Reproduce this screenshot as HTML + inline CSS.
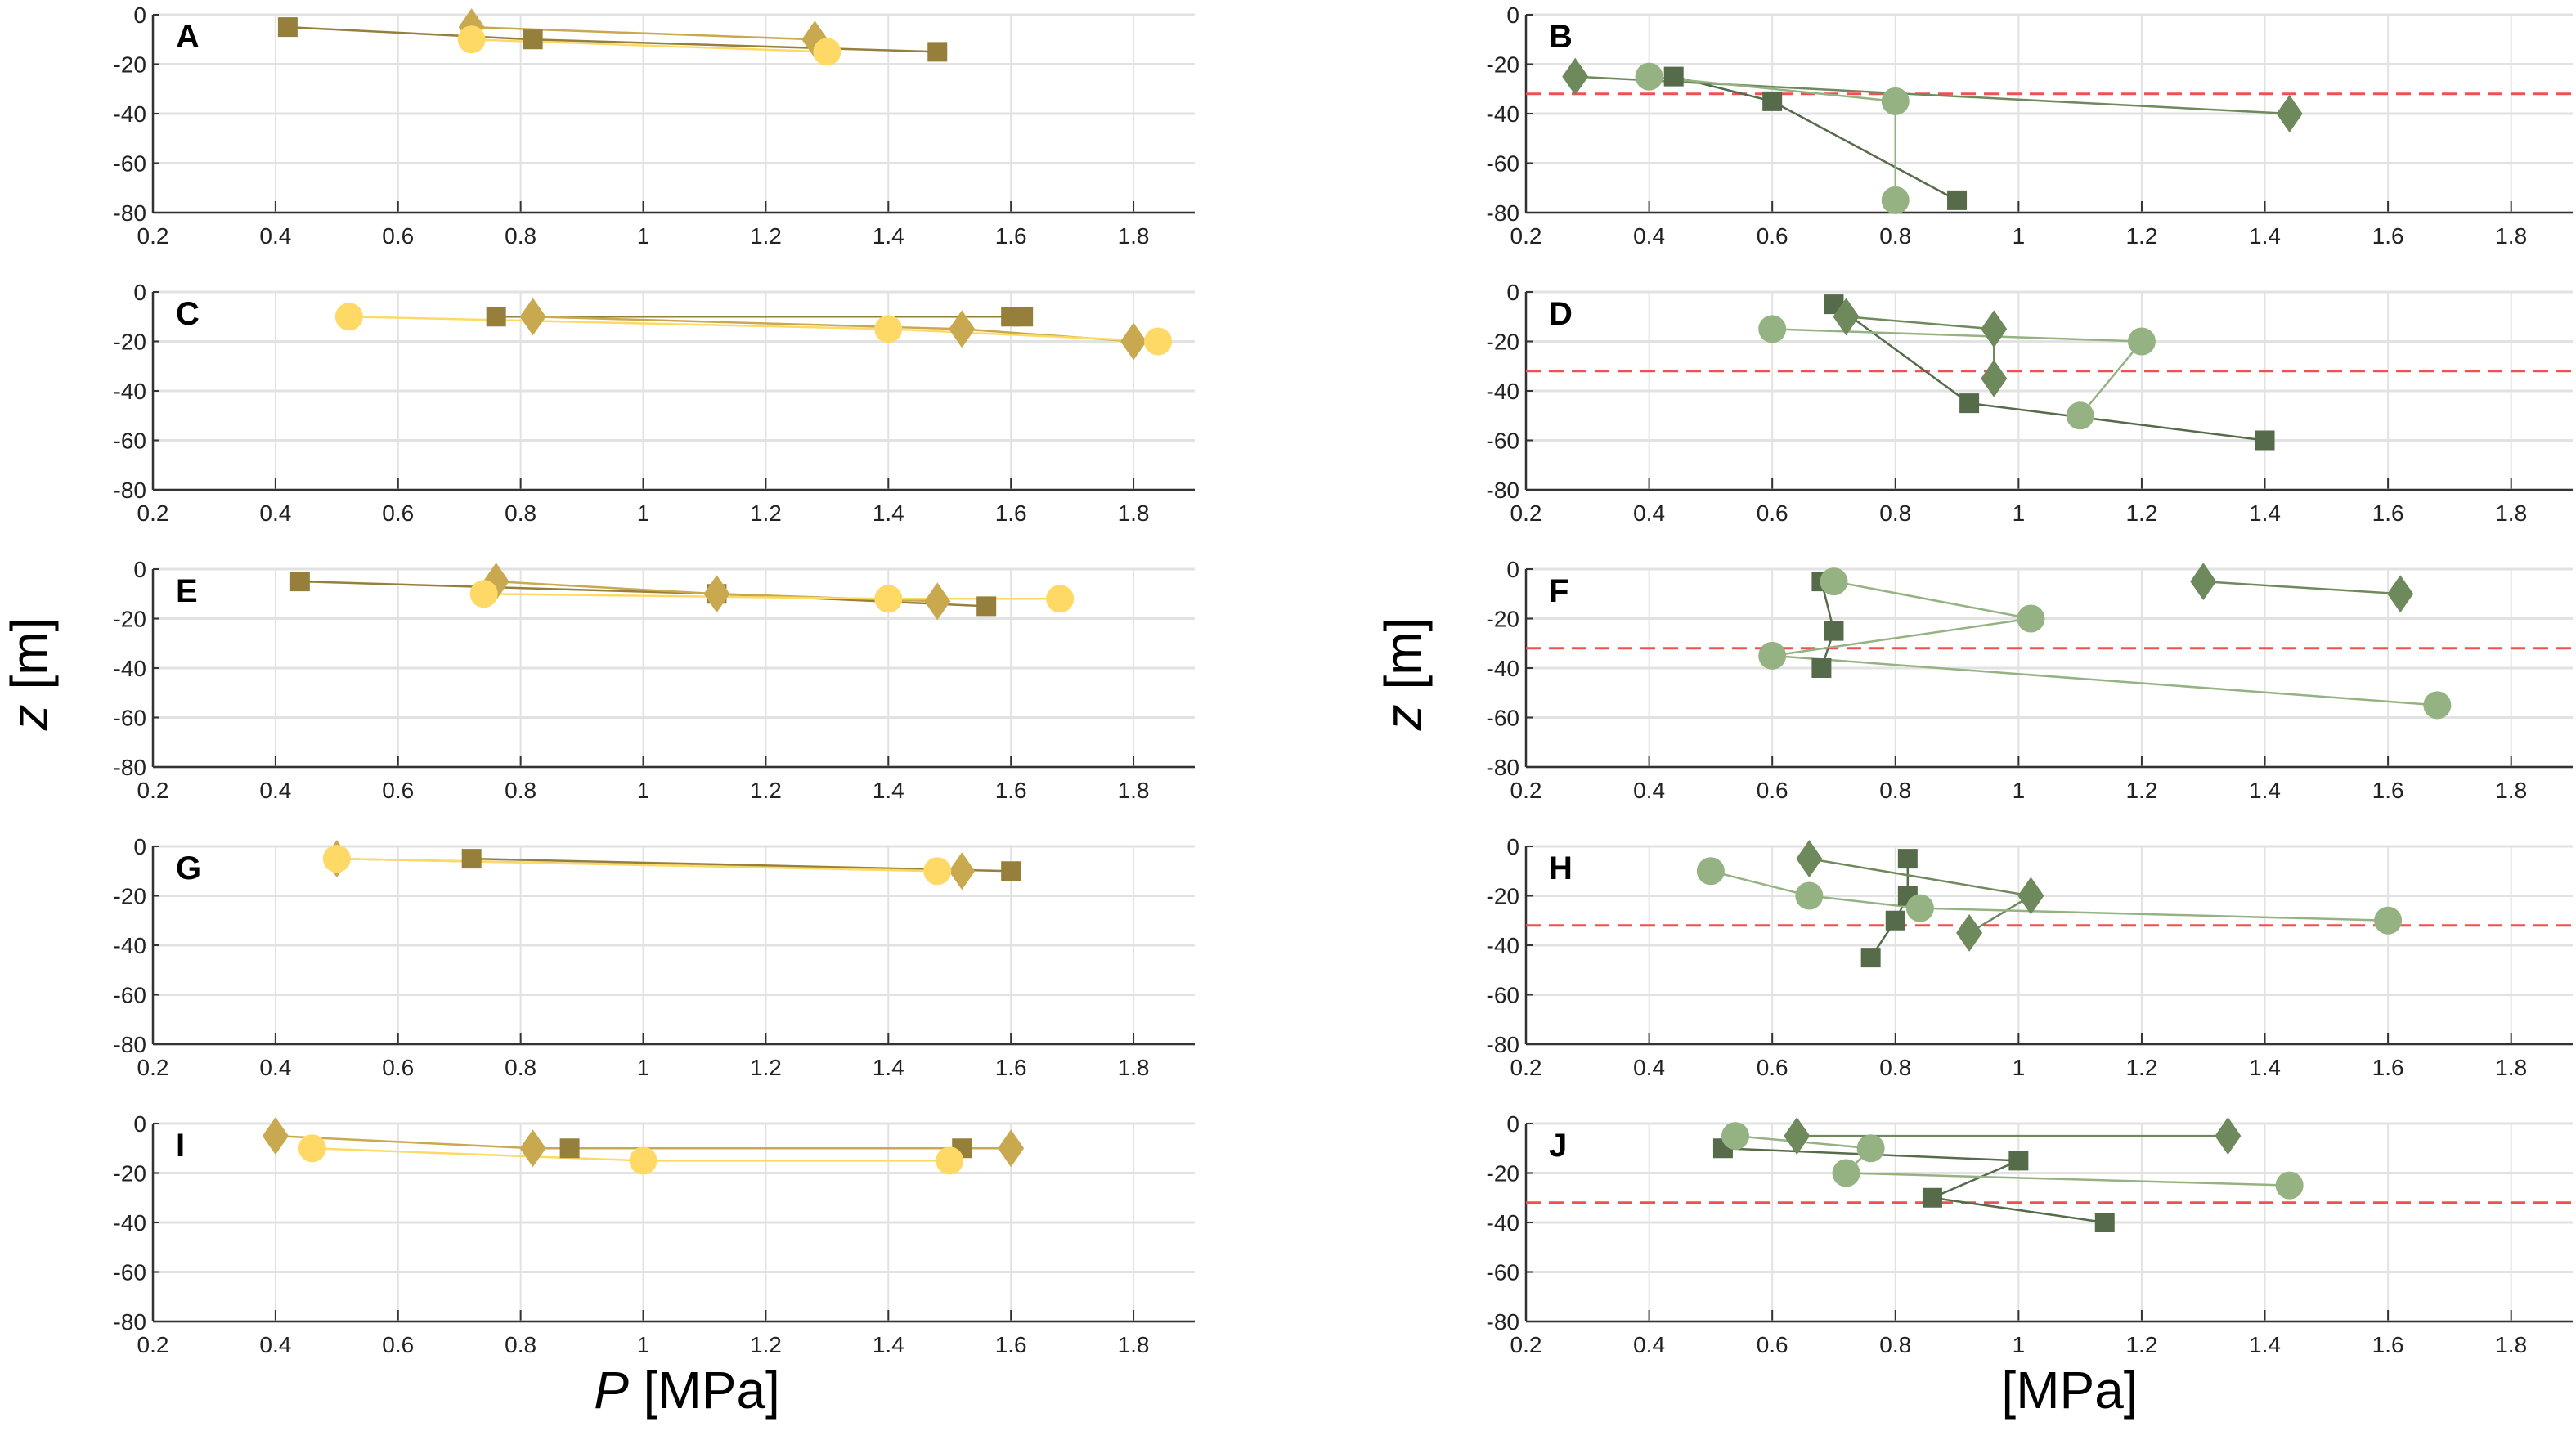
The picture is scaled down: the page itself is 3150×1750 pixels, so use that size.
<!DOCTYPE html>
<html><head><meta charset="utf-8"><style>
body{margin:0;background:#fff}
svg text{font-family:"Liberation Sans",sans-serif}
</style></head><body>
<svg id="fig" width="3150" height="1745" viewBox="0 0 3150 1745" xmlns="http://www.w3.org/2000/svg">
<text transform="translate(58,824) rotate(-90)" text-anchor="middle" font-size="64"><tspan font-style="italic">z</tspan> [m]</text>
<text transform="translate(1738,824) rotate(-90)" text-anchor="middle" font-size="64"><tspan font-style="italic">z</tspan> [m]</text>
<text x="840" y="1722" text-anchor="middle" font-size="64"><tspan font-style="italic">P</tspan> [MPa]</text>
<text x="2531" y="1722" text-anchor="middle" font-size="64">[MPa]</text>
</svg>
<script>
const panelLetters=['A','B','C','D','E','F','G','H','I','J'];
const xTicks=[0.2,0.4,0.6,0.8,1,1.2,1.4,1.6,1.8];
const yTicks=[0,-20,-40,-60,-80];
const xTickLabels=['0.2','0.4','0.6','0.8','1','1.2','1.4','1.6','1.8'];
const yTickLabels=['0','-20','-40','-60','-80'];
const refDepth=-32;
const sqP=[[0.42,0.82,1.48],[0.44,0.6,0.9],[0.76,1.6,1.62],[0.7,0.92,1.4],[0.44,1.12,1.56],[0.68,0.7,0.68],[0.72,1.6],[0.82,0.82,0.8,0.76],[0.88,1.52],[0.52,1.0,0.86,1.14]];
const sqZ=[[-5,-10,-15],[-25,-35,-75],[-10,-10,-10],[-5,-45,-60],[-5,-10,-15],[-5,-25,-40],[-5,-10],[-5,-20,-30,-45],[-10,-10],[-10,-15,-30,-40]];
const dmP=[[0.72,1.28],[0.28,1.44],[0.82,1.52,1.8],[0.72,0.96,0.96],[0.76,1.12,1.48],[1.3,1.62],[0.5,1.52],[0.66,1.02,0.92],[0.4,0.82,1.6],[0.64,1.34]];
const dmZ=[[-5,-10],[-25,-40],[-10,-15,-20],[-10,-15,-35],[-5,-10,-13],[-5,-10],[-5,-10],[-5,-20,-35],[-5,-10,-10],[-5,-5]];
const ciP=[[0.72,1.3],[0.4,0.8,0.8],[0.52,1.4,1.84],[0.6,1.2,1.1],[0.74,1.4,1.68],[0.7,1.02,0.6,1.68],[0.5,1.48],[0.5,0.66,0.84,1.6],[0.46,1.0,1.5],[0.54,0.76,0.72,1.44]];
const ciZ=[[-10,-15],[-25,-35,-75],[-10,-15,-20],[-15,-20,-50],[-10,-12,-12],[-5,-20,-35,-55],[-5,-10],[-10,-20,-25,-30],[-10,-15,-15],[-5,-10,-20,-25]];

const NS='http://www.w3.org/2000/svg';
const svg=document.getElementById('fig');
function mk(tag,attrs,parent){const e=document.createElementNS(NS,tag);for(const k in attrs)e.setAttribute(k,attrs[k]);(parent||svg).appendChild(e);return e;}
const colsL={sq:'#957f3a',dm:'#c9a94f',ci:'#ffd966'};
const colsR={sq:'#566b4a',dm:'#6e8a5c',ci:'#95b282'};
for(let i=0;i<10;i++){
  const right=i%2===1,row=Math.floor(i/2);
  const X0=right?1866:187,X1=right?3146:1461;
  const Y0=18+row*339,H=242;
  const sx=p=>X0+(p-0.2)/(1.7)*(X1-X0);
  const sy=z=>Y0+(-z)/80*H;
  const g=mk('g',{});
  
  
  xTicks.forEach((t,k)=>{
    mk('line',{x1:sx(t),x2:sx(t),y1:Y0,y2:Y0+H,stroke:'#e2e2e2','stroke-width':2},g);
    mk('line',{x1:sx(t),x2:sx(t),y1:Y0+H-14,y2:Y0+H,stroke:'#333','stroke-width':2},g);
    const tx=mk('text',{x:sx(t),y:Y0+H+38,'text-anchor':'middle','font-size':28,fill:'#222'},g);
    
    
    tx.textContent=xTickLabels[k];
  });
  yTicks.forEach((t,k)=>{
    mk('line',{x1:X0,x2:X1,y1:sy(t),y2:sy(t),stroke:'#e2e2e2','stroke-width':3},g);
    mk('line',{x1:X0,x2:X0+8,y1:sy(t),y2:sy(t),stroke:'#333','stroke-width':2},g);
    const tx=mk('text',{x:X0-8,y:sy(t)+10,'text-anchor':'end','font-size':28,fill:'#222'},g);
    
    
    tx.textContent=yTickLabels[k];
  });
  mk('line',{x1:X0,x2:X0,y1:Y0,y2:Y0+H,stroke:'#333','stroke-width':2.5},g);
  mk('line',{x1:X0,x2:X1,y1:Y0+H,y2:Y0+H,stroke:'#333','stroke-width':2.5},g);
  if(right){
    const rl=mk('line',{x1:X0,x2:X1,y1:sy(refDepth),y2:sy(refDepth),stroke:'#f05050','stroke-width':3,'stroke-dasharray':'18,10'},g);
    
    
  }
  const lab=mk('text',{x:X0+28,y:Y0+40,'font-size':40,'font-weight':'bold',fill:'#000'},g);
  
  
  lab.textContent=panelLetters[i];
  const c=right?colsR:colsL;
  const series=[['sq',sqP[i],sqZ[i]],['dm',dmP[i],dmZ[i]],['ci',ciP[i],ciZ[i]]];
  series.forEach(([k,P,Z])=>{
    const pts=P.map((p,j)=>sx(p)+','+sy(Z[j])).join(' ');
    const pl=mk('polyline',{points:pts,fill:'none',stroke:c[k],'stroke-width':2.5},g);
    
    
  });
  series.forEach(([k,P,Z])=>{
    P.forEach((p,j)=>{
      const x=sx(p),y=sy(Z[j]);let m;
      if(k==='sq')m=mk('rect',{x:x-12,y:y-12,width:24,height:24,fill:c.sq},g);
      else if(k==='dm')m=mk('polygon',{points:`${x},${y-23} ${x+16},${y} ${x},${y+23} ${x-16},${y}`,fill:c.dm},g);
      else m=mk('circle',{cx:x,cy:y,r:17,fill:c.ci},g);
      
      
    });
  });
}
</script>
</body></html>
